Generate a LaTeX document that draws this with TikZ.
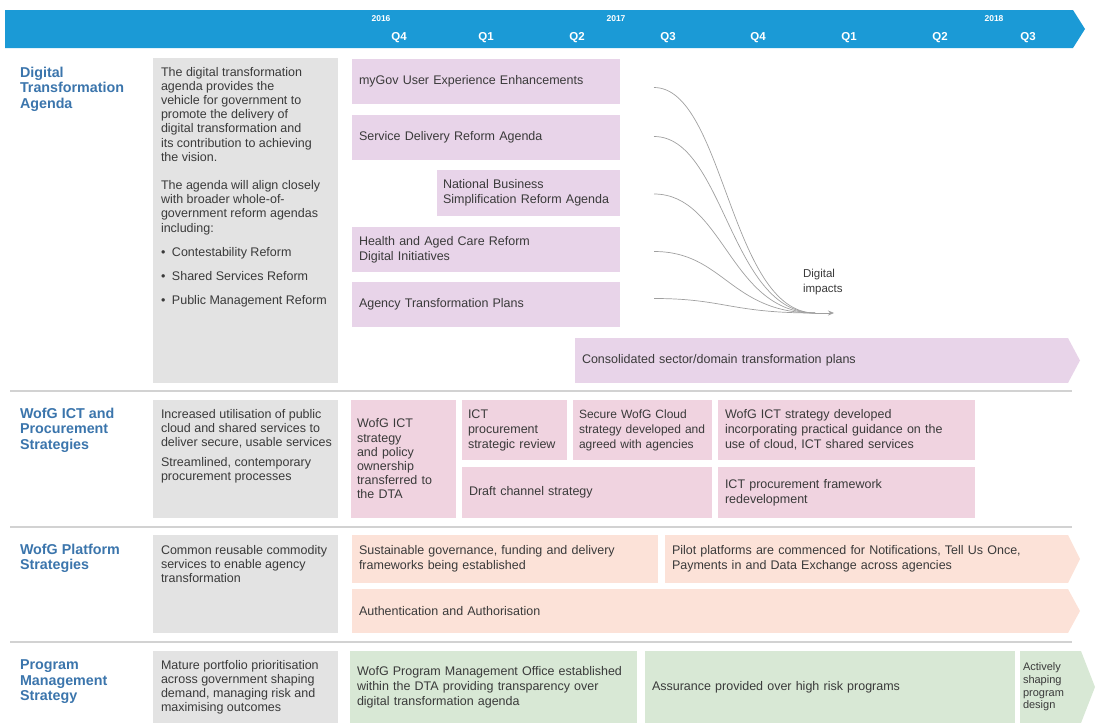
\documentclass[tikz,border=0pt]{standalone}
\usepackage{fontspec}
\setmainfont{Liberation Sans}
\usetikzlibrary{arrows.meta,calc}
\definecolor{banner}{HTML}{1B9AD6}
\definecolor{ttl}{HTML}{3B75AC}
\definecolor{grayb}{HTML}{E3E3E3}
\definecolor{mauve}{HTML}{E8D4E9}
\definecolor{pinkb}{HTML}{F0D3E0}
\definecolor{salmon}{HTML}{FCE2D8}
\definecolor{greenb}{HTML}{D8E8D5}
\definecolor{txt}{HTML}{3A3A3A}
\definecolor{sepc}{HTML}{D2D2D2}
\definecolor{curvec}{HTML}{A0A0A0}
\newcommand\bodyfont{\fontsize{12.5}{15}\selectfont}
\newcommand\grayfont{\fontsize{12.5}{14.2}\selectfont}
\newcommand\ttlfont{\fontsize{14.3}{15.5}\selectfont\bfseries}
\begin{document}
\begin{tikzpicture}[x=1pt,y=-1pt,
  every node/.style={inner sep=0pt, outer sep=0pt},
  yr/.style={text=white, font=\fontsize{8.5}{9}\selectfont\bfseries},
  qtr/.style={text=white, font=\fontsize{11.5}{12}\selectfont\bfseries},
  ttlnode/.style={anchor=north west, align=left, text=ttl, font=\ttlfont},
  gbox/.style={anchor=north west, fill=grayb},
  gtext/.style={anchor=north west, align=left, text=txt, font=\grayfont},
  bx/.style={anchor=north west, inner xsep=7pt, align=left, text=txt, font=\bodyfont},
  sepline/.style={draw=sepc, line width=1.5pt},
  flow/.style={draw=curvec, line width=0.7pt}
]
\useasboundingbox (0,0) rectangle (1106,726);

% banner
\fill[banner] (5,10) -- (1073,10) -- (1085,29) -- (1073,48) -- (5,48) -- cycle;
\node[yr] (y16) at (381,19) {2016};
\node[yr] (y17) at (616,19) {2017};
\node[yr] (y18) at (994,19) {2018};
\node[qtr] (q1) at (399,38) {Q4};
\node[qtr] (q2) at (486,38) {Q1};
\node[qtr] (q3) at (577,38) {Q2};
\node[qtr] (q4) at (668,38) {Q3};
\node[qtr] (q5) at (758,38) {Q4};
\node[qtr] (q6) at (849,38) {Q1};
\node[qtr] (q7) at (940,38) {Q2};
\node[qtr] (q8) at (1028,38) {Q3};

% separators
\draw[sepline] (10,391) -- (1072,391);
\draw[sepline] (10,527) -- (1072,527);
\draw[sepline] (10,642) -- (1072,642);

% ---------- Row 1
\node[ttlnode] (t1) at (20,67) {Digital\\Transformation\\Agenda};
\node[gbox, minimum width=185pt, minimum height=325pt] (g1) at (153,58) {};
\node[gtext] (g1t) at (161,67) {The digital transformation\\agenda provides the\\vehicle for government to\\promote the delivery of\\digital transformation and\\its contribution to achieving\\the vision.\\[14pt]The agenda will align closely\\with broader whole-of-\\government reform agendas\\including:\\[10pt]\makebox[11pt][l]{\textbullet}Contestability Reform\\[10pt]\makebox[11pt][l]{\textbullet}Shared Services Reform\\[10pt]\makebox[11pt][l]{\textbullet}Public Management Reform};

\node[bx, fill=mauve, minimum width=268pt, minimum height=45pt, text width=254pt] (m1) at (352,59) {myGov User Experience Enhancements};
\node[bx, fill=mauve, minimum width=268pt, minimum height=45pt, text width=254pt] (m2) at (352,115) {Service Delivery Reform Agenda};
\node[bx, fill=mauve, minimum width=183pt, minimum height=46pt, text width=171pt, inner xsep=6pt] (m3) at (437,170) {National Business\\Simplification Reform Agenda};
\node[bx, fill=mauve, minimum width=268pt, minimum height=45pt, text width=254pt] (m4) at (352,227) {Health and Aged Care Reform\\Digital Initiatives};
\node[bx, fill=mauve, minimum width=268pt, minimum height=45pt, text width=254pt] (m5) at (352,282) {Agency Transformation Plans};
\node[bx, fill=mauve, minimum width=493pt, minimum height=45pt, text width=479pt] (cons) at (575,338) {Consolidated sector/domain transformation plans};
\fill[mauve] (cons.north east) -- ($(cons.east)+(12,0)$) -- (cons.south east) -- cycle;

% digital impacts flows
\coordinate (s1) at ($(m1.east)+(34,6)$);
\coordinate (s2) at ($(m2.east)+(34,-1)$);
\coordinate (s3) at ($(m3.east)+(34,1)$);
\coordinate (s4) at ($(m4.east)+(34,2)$);
\coordinate (s5) at ($(m5.east)+(34,-6)$);
\coordinate (conv) at (815,313);
\coordinate (tip) at (834,313);
\foreach \s in {s1,s2,s3,s4,s5}
  \draw[flow] (\s) .. controls +(70,0) and +(-85,0) .. (conv);
\draw[flow, -{Stealth[length=6pt,width=5pt]}] (conv) -- (tip);
\node[anchor=north west, align=left, text=txt, font=\fontsize{11.5}{15}\selectfont] (di) at (803,269) {Digital\\impacts};

% ---------- Row 2
\node[ttlnode] (t2) at (20,408) {WofG ICT and\\Procurement\\Strategies};
\node[gbox, minimum width=185pt, minimum height=118pt] (g2) at (153,400) {};
\node[gtext] (g2t) at (161,409) {Increased utilisation of public\\cloud and shared services to\\deliver secure, usable services\\[6pt]Streamlined, contemporary\\procurement processes};

\node[bx, fill=pinkb, minimum width=105pt, minimum height=118pt, text width=93pt, inner xsep=6pt, font=\grayfont] (p1) at (351,400) {WofG ICT\\strategy\\and policy\\ownership\\transferred to\\the DTA};
\node[bx, fill=pinkb, minimum width=105pt, minimum height=60pt, text width=93pt, inner xsep=6pt] (p2) at (462,400) {ICT\\procurement\\strategic review};
\node[bx, fill=pinkb, minimum width=139pt, minimum height=60pt, text width=131pt, inner xsep=4pt, font=\fontsize{12}{15}\selectfont] (p3) at (573,400) {\hspace{2pt}Secure WofG Cloud\\\hspace{2pt}strategy developed and\\\hspace{2pt}agreed with agencies};
\node[bx, fill=pinkb, minimum width=257pt, minimum height=60pt, text width=243pt] (p4) at (718,400) {WofG ICT strategy developed\\incorporating practical guidance on the\\use of cloud, ICT shared services};
\node[bx, fill=pinkb, minimum width=250pt, minimum height=51pt, text width=236pt] (p5) at (462,467) {Draft channel strategy};
\node[bx, fill=pinkb, minimum width=257pt, minimum height=51pt, text width=243pt] (p6) at (718,467) {ICT procurement framework\\redevelopment};

% ---------- Row 3
\node[ttlnode] (t3) at (20,544) {WofG Platform\\Strategies};
\node[gbox, minimum width=185pt, minimum height=98pt] (g3) at (153,535) {};
\node[gtext] (g3t) at (161,545) {Common reusable commodity\\services to enable agency\\transformation};

\node[bx, fill=salmon, minimum width=306pt, minimum height=48pt, text width=292pt] (sa) at (352,535) {Sustainable governance, funding and delivery\\frameworks being established};
\node[bx, fill=salmon, minimum width=403pt, minimum height=48pt, text width=389pt] (sb) at (665,535) {Pilot platforms are commenced for Notifications, Tell Us Once,\\Payments in and Data Exchange across agencies};
\fill[salmon] (sb.north east) -- ($(sb.east)+(12,0)$) -- (sb.south east) -- cycle;
\node[bx, fill=salmon, minimum width=716pt, minimum height=44pt, text width=702pt] (sc) at (352,589) {Authentication and Authorisation};
\fill[salmon] (sc.north east) -- ($(sc.east)+(12,0)$) -- (sc.south east) -- cycle;

% ---------- Row 4
\node[ttlnode] (t4) at (20,660) {Program\\Management\\Strategy};
\node[gbox, minimum width=185pt, minimum height=72pt] (g4) at (153,651) {};
\node[gtext] (g4t) at (161,660) {Mature portfolio prioritisation\\across government shaping\\demand, managing risk and\\maximising outcomes};

\node[bx, fill=greenb, minimum width=287pt, minimum height=72pt, text width=273pt] (ga) at (350,651) {WofG Program Management Office established\\within the DTA providing transparency over\\digital transformation agenda};
\node[bx, fill=greenb, minimum width=370pt, minimum height=72pt, text width=356pt] (gb) at (645,651) {Assurance provided over high risk programs};
\node[bx, fill=greenb, minimum width=61pt, minimum height=72pt, text width=55pt, inner xsep=3pt, font=\fontsize{11}{12.6}\selectfont] (gc) at (1020,651) {Actively\\shaping\\program\\design};
\fill[greenb] (gc.north east) -- ($(gc.east)+(14,0)$) -- (gc.south east) -- cycle;
\end{tikzpicture}
\end{document}
